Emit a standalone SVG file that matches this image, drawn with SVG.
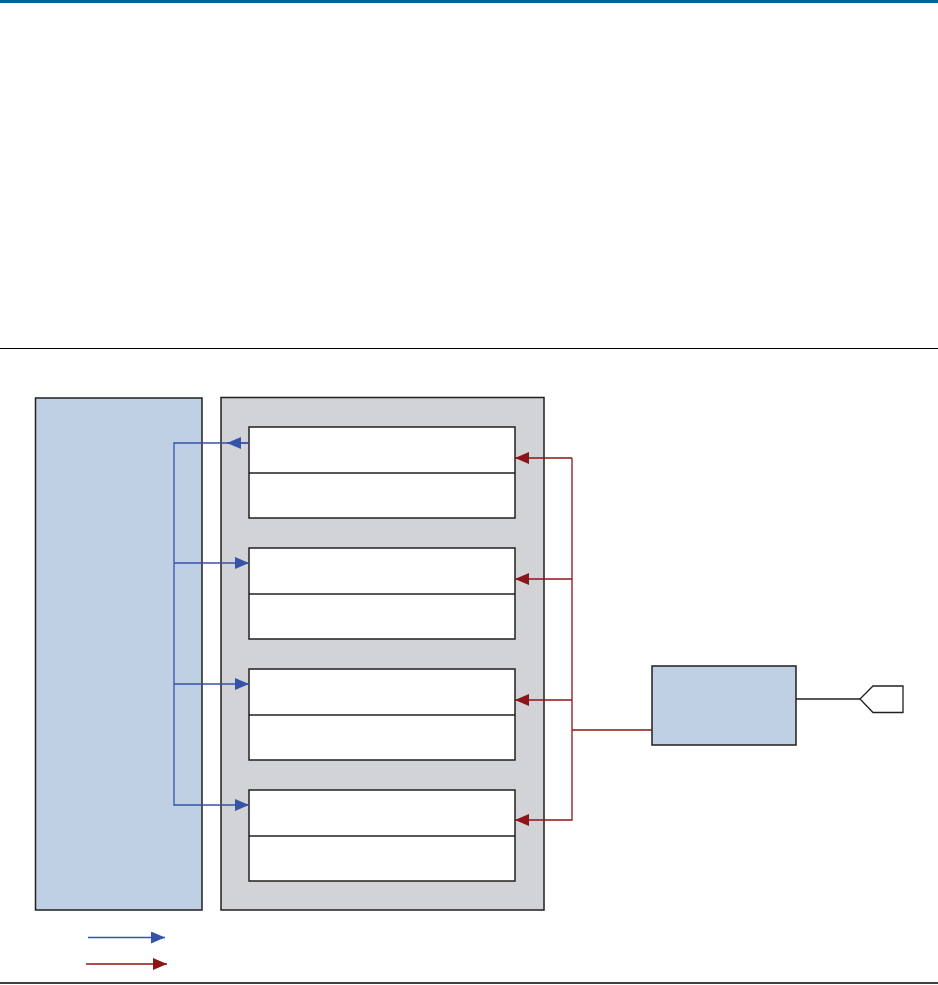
<svg xmlns="http://www.w3.org/2000/svg" width="938" height="985" viewBox="0 0 938 985">
<style>
.box{stroke:#231f20;stroke-width:1.5}
.blue{fill:#bfd0e5}
.gray{fill:#d1d3d6}
.white{fill:#ffffff}
.bl{fill:none;stroke:#3653a8;stroke-width:1.3}
.rd{fill:none;stroke:#8b1518;stroke-width:1.3}
.rule{stroke:#000;stroke-width:1.2}
</style>
<defs>
<marker id="ab" markerWidth="14" markerHeight="12" refX="14" refY="6" orient="auto" markerUnits="userSpaceOnUse"><path d="M0,0 L14,6 L0,12 Z" fill="#3653a8"/></marker>
<marker id="ar" markerWidth="14" markerHeight="12" refX="14" refY="6" orient="auto" markerUnits="userSpaceOnUse"><path d="M0,0 L14,6 L0,12 Z" fill="#8b1518"/></marker>
</defs>
<rect width="938" height="985" fill="#fff"/>
<rect x="0" y="0" width="938" height="3" fill="#00649a"/>
<line class="rule" x1="0" y1="348.5" x2="938" y2="348.5"/>
<line x1="0" y1="983" x2="938" y2="983" stroke="#000" stroke-width="1.6"/>

<g id="left-block"><rect class="box blue" x="35.5" y="398" width="166.5" height="512"/></g>
<g id="center-block"><rect class="box gray" x="221" y="397.5" width="323" height="512.5"/></g>
<g id="unit1"><rect class="box white" x="249" y="427" width="266" height="91"/><line class="box" x1="249" y1="473" x2="515" y2="473"/></g>
<g id="unit2"><rect class="box white" x="249" y="548" width="266" height="91"/><line class="box" x1="249" y1="594" x2="515" y2="594"/></g>
<g id="unit3"><rect class="box white" x="249" y="669" width="266" height="91"/><line class="box" x1="249" y1="715" x2="515" y2="715"/></g>
<g id="unit4"><rect class="box white" x="249" y="790" width="266" height="91"/><line class="box" x1="249" y1="836" x2="515" y2="836"/></g>
<g id="right-block"><rect class="box blue" x="652" y="666" width="144" height="79"/></g>
<g id="port"><path d="M860,699 L873,686 L903,686 L903,712.5 L873,712.5 Z" fill="#fff" stroke="#231f20" stroke-width="1.3"/></g>

<g id="connectors">
<path class="bl" d="M249,443 L174,443 L174,805 L249,805" marker-end="url(#ab)"/>
<path class="bl" d="M249,443 L227,443" marker-end="url(#ab)"/>
<path class="bl" d="M174,563 L249,563" marker-end="url(#ab)"/>
<path class="bl" d="M174,684 L249,684" marker-end="url(#ab)"/>
<path class="rd" d="M572,458 L515,458" marker-end="url(#ar)"/>
<path class="rd" d="M572,458 L572,820 L515,820" marker-end="url(#ar)"/>
<path class="rd" d="M572,579 L515,579" marker-end="url(#ar)"/>
<path class="rd" d="M572,700 L515,700" marker-end="url(#ar)"/>
<path class="rd" d="M572,730 L652,730"/>
<path d="M796,699 L860,699" fill="none" stroke="#231f20" stroke-width="1.3"/>
<path class="bl" d="M88,937.5 L165,937.5" marker-end="url(#ab)"/>
<path class="rd" d="M86,964 L167,964" marker-end="url(#ar)"/>
</g>
</svg>
